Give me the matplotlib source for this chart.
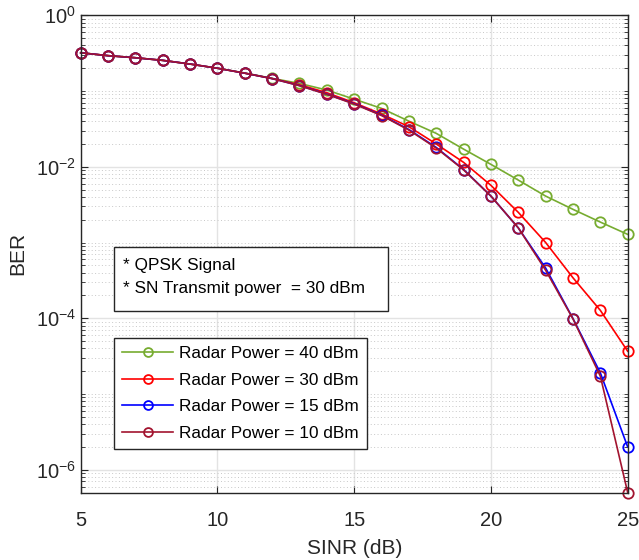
import numpy as np
import matplotlib
matplotlib.use("Agg")
import matplotlib.pyplot as plt
from matplotlib.ticker import LogLocator, FuncFormatter, FixedLocator, NullFormatter
from matplotlib.patches import Rectangle

plt.rcParams['font.family'] = ['Liberation Sans', 'DejaVu Sans']
plt.rcParams['mathtext.fontset'] = 'custom'
plt.rcParams['mathtext.rm'] = 'Liberation Sans'
plt.rcParams['mathtext.it'] = 'Liberation Sans'
plt.rcParams['mathtext.bf'] = 'Liberation Sans'

# data
snr = [5, 6, 7, 8, 9, 10, 11, 12, 13, 14, 15, 16, 17, 18, 19, 20, 21, 22, 23, 24, 25]
ber_40 = [0.32, 0.293, 0.275, 0.254, 0.227, 0.2, 0.173, 0.147, 0.126, 0.103, 0.078,
          0.059, 0.040, 0.0276, 0.0171, 0.01075, 0.00667, 0.0041, 0.00274, 0.00186, 0.00128]
ber_30 = [0.32, 0.293, 0.275, 0.254, 0.227, 0.2, 0.172, 0.146, 0.121, 0.095, 0.070,
          0.0497, 0.0338, 0.020, 0.01143, 0.00568, 0.0025, 0.001, 3.42e-4, 1.27e-4, 3.67e-5]
ber_15 = [0.32, 0.293, 0.275, 0.254, 0.227, 0.2, 0.172, 0.146, 0.118, 0.091, 0.068,
          0.048, 0.031, 0.018, 0.0092, 0.0041, 0.00156, 4.6e-4, 9.9e-5, 1.9e-5, 2.0e-6]
ber_10 = [0.32, 0.293, 0.275, 0.254, 0.227, 0.2, 0.172, 0.146, 0.1175, 0.0904, 0.0673,
          0.0475, 0.0305, 0.01766, 0.0091, 0.0041, 0.00156, 4.3e-4, 9.8e-5, 1.72e-5, 5.0e-7]

series = [ber_40, ber_30, ber_15, ber_10]
labels = ['Radar Power = 40 dBm', 'Radar Power = 30 dBm',
          'Radar Power = 15 dBm', 'Radar Power = 10 dBm']
colors = ['#77AC30', '#FF0000', '#0000FF', '#A2142F']

fig = plt.figure(figsize=(6.39, 5.6), dpi=100)
ax = fig.add_axes([0.1263, 0.1205, 0.8560, 0.8522])

for y, lab, c in zip(series, labels, colors):
    ax.semilogy(snr, y, color=c, lw=1.2, marker='o', markersize=7.5,
                markerfacecolor='none', markeredgewidth=1.3, label=lab, clip_on=False)

ax.set_xlim(5, 25)
ax.set_ylim(5e-7, 1)
ax.set_xticks([5, 10, 15, 20, 25])
ax.yaxis.set_major_locator(FixedLocator([1e-6, 1e-4, 1e-2, 1]))
ax.yaxis.set_major_formatter(FuncFormatter(lambda v, p: r'$\mathregular{10^{%d}}$' % round(np.log10(v))))
ax.yaxis.set_minor_locator(LogLocator(base=10, subs=np.arange(1, 10), numticks=30))
ax.yaxis.set_minor_formatter(NullFormatter())

ax.tick_params(which='both', direction='in', top=True, right=True, colors='#262626',
               labelsize=14.5)
ax.tick_params(which='major', length=5, width=0.8)
ax.tick_params(which='minor', length=3, width=0.6)
ax.tick_params(axis='x', pad=13)
for s in ax.spines.values():
    s.set_color('#262626')
    s.set_linewidth(1.0)

ax.grid(True, which='major', color='#e3e3e3', lw=1.0, ls='-')
ax.grid(True, which='minor', axis='y', color='#c8c8c8', lw=0.7, ls=(0, (1, 2.5)))
ax.set_axisbelow(True)

ax.set_xlabel('SINR (dB)', fontsize=15, color='#262626', labelpad=7)
ax.set_ylabel('BER', fontsize=15, color='#262626', labelpad=6)

# annotation box
ax.add_patch(Rectangle((0.0609, 0.3803), 0.5009, 0.1342, transform=ax.transAxes,
                       facecolor='white', edgecolor='#262626', lw=1.0, zorder=5))
ax.text(0.0773, 0.4767, '* QPSK Signal', transform=ax.transAxes, fontsize=12.4,
        va='center', ha='left', zorder=6)
ax.text(0.0773, 0.4285, '* SN Transmit power  = 30 dBm', transform=ax.transAxes, fontsize=12.4,
        va='center', ha='left', zorder=6)

leg = ax.legend(loc='upper left', bbox_to_anchor=(0.0609, 0.3238), borderaxespad=0,
                fontsize=12.4, fancybox=False, edgecolor='#262626', framealpha=1,
                handlelength=3.0, handletextpad=0.35, labelspacing=0.68, borderpad=0.45,
                markerscale=0.85)
leg.get_frame().set_linewidth(1.0)
leg.set_zorder(7)

fig.savefig('out.png', dpi=100)
